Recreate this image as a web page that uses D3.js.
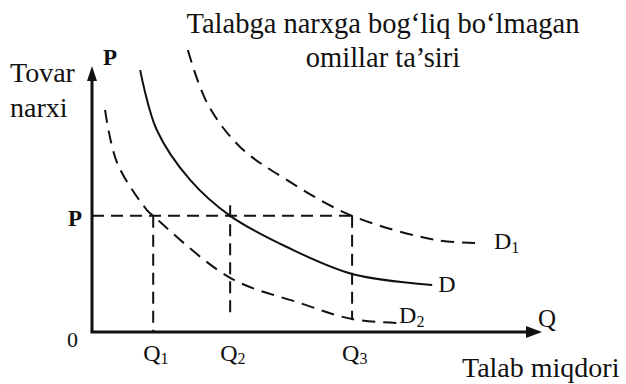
<!DOCTYPE html>
<html>
<head>
<meta charset="utf-8">
<script src="https://cdn.jsdelivr.net/npm/d3@7"></script>
<style>
  html, body { margin: 0; padding: 0; background: #fff; }
  svg text { font-family: "Liberation Serif", "DejaVu Serif", serif; fill: #111; }
</style>
</head>
<body>
<svg id="chart" width="626" height="384"></svg>
<script>
// egri chiziqlar: [miqdor, narx]
const egriD1 = [[2.13, 10.68], [2.56, 8.67], [3.29, 7.01], [4.33, 5.76], [5.78, 4.4], [7.67, 3.48], [8.62, 3.37]];
const egriD = [[1.07, 9.92], [1.44, 7.65], [2.18, 5.76], [3.07, 4.4], [4.33, 3.22], [5.78, 2.2], [7.56, 1.78]];
const egriD2 = [[0.29, 8.41], [0.56, 6.4], [1.22, 4.62], [1.36, 4.4], [3.07, 2.05], [4.62, 1.1], [5.78, 0.49], [6.78, 0.34]];

const narxP = 4.4;
const miqdorlar = [1.36, 3.07, 5.78]; // Q1, Q2, Q3
const miqdorTepa = [4.4, 4.8, 4.4];
const miqdorPast = [0, 0.5, 0.5];
const qBelgilar = ["1", "2", "3"];

const sarlavha = ["Talabga narxga bog\u2018liq bo\u2018lmagan", "omillar ta\u2019siri"];

function chiz(svgElem) {
  const svg = d3.select(svgElem);

  const x = d3.scaleLinear().domain([0, 10]).range([92, 542]);
  const y = d3.scaleLinear().domain([0, 10]).range([332, 68]);

  const line = d3.line()
    .x(d => x(d[0]))
    .y(d => y(d[1]))
    .curve(d3.curveCatmullRom.alpha(0.5));

  // o'qlar
  svg.append("line")
    .attr("x1", x(0)).attr("y1", y(0))
    .attr("x2", x(0)).attr("y2", y(10) + 10)
    .attr("stroke", "#111").attr("stroke-width", 3);
  svg.append("path")
    .attr("d", `M${x(0)},${y(10) - 2} L${x(0) - 5},${y(10) + 13} L${x(0) + 5},${y(10) + 13} Z`)
    .attr("fill", "#111");
  svg.append("line")
    .attr("x1", x(0) - 1.5).attr("y1", y(0))
    .attr("x2", x(10) - 12).attr("y2", y(0))
    .attr("stroke", "#111").attr("stroke-width", 3);
  svg.append("path")
    .attr("d", `M${x(10)},${y(0)} L${x(10) - 16},${y(0) - 6} L${x(10) - 16},${y(0) + 6} Z`)
    .attr("fill", "#111");

  // yordamchi chiziqlar
  svg.append("line")
    .attr("x1", x(0)).attr("y1", y(narxP))
    .attr("x2", x(miqdorlar[2])).attr("y2", y(narxP))
    .attr("stroke", "#111").attr("stroke-width", 2)
    .attr("stroke-dasharray", "12,7");

  svg.selectAll("line.q")
    .data(miqdorlar)
    .enter().append("line")
    .attr("class", "q")
    .attr("x1", d => x(d)).attr("x2", d => x(d))
    .attr("y1", (d, i) => y(miqdorTepa[i]))
    .attr("y2", (d, i) => y(miqdorPast[i]))
    .attr("stroke", "#111").attr("stroke-width", 2)
    .attr("stroke-dasharray", "12,7");

  // talab egri chiziqlari
  const egrilar = [
    { data: egriD1, dash: "13,8", nom: "D", sub: "1", dx: 14, dy: 6 },
    { data: egriD, dash: null, nom: "D", sub: "", dx: 6, dy: 7 },
    { data: egriD2, dash: "13,8", nom: "D", sub: "2", dx: 2, dy: 0 },
  ];

  egrilar.forEach(e => {
    svg.append("path")
      .attr("d", line(e.data))
      .attr("fill", "none")
      .attr("stroke", "#111")
      .attr("stroke-width", 2)
      .attr("stroke-dasharray", e.dash);
    const oxiri = e.data[e.data.length - 1];
    const t = svg.append("text")
      .attr("x", x(oxiri[0]) + e.dx)
      .attr("y", y(oxiri[1]) + e.dy)
      .attr("font-size", 24)
      .text(e.nom);
    if (e.sub) {
      t.append("tspan").attr("font-size", 16).attr("dy", 4).text(e.sub);
    }
  });

  // belgilar
  svg.append("text").attr("x", x(0) + 11).attr("y", 65)
    .attr("font-size", 23).attr("font-weight", "bold").text("P");
  svg.append("text").attr("x", x(0) - 24).attr("y", y(narxP) + 10)
    .attr("font-size", 23).attr("font-weight", "bold").text("P");
  svg.append("text").attr("x", x(0) - 25).attr("y", y(0) + 15)
    .attr("font-size", 22).text("0");

  svg.selectAll("text.ql")
    .data(miqdorlar)
    .enter().append("text")
    .attr("class", "ql")
    .attr("x", d => x(d) - 10)
    .attr("y", 361)
    .attr("font-size", 24)
    .each(function(d, i) {
      d3.select(this).append("tspan").text("Q");
      d3.select(this).append("tspan").attr("font-size", 16).attr("dy", 3).text(qBelgilar[i]);
    });

  svg.append("text").attr("x", x(10) - 4).attr("y", y(0) - 5)
    .attr("font-size", 25).text("Q");

  svg.append("text").attr("x", 10).attr("y", 82)
    .attr("font-size", 28).text("Tovar");
  svg.append("text").attr("x", 10).attr("y", 117)
    .attr("font-size", 28).text("narxi");
  svg.append("text").attr("x", 462).attr("y", 377)
    .attr("font-size", 28).text("Talab miqdori");

  svg.selectAll("text.sarlavha")
    .data(sarlavha)
    .enter().append("text")
    .attr("class", "sarlavha")
    .attr("x", 383)
    .attr("y", (d, i) => 33 + i * 34)
    .attr("text-anchor", "middle")
    .attr("font-size", 28.5)
    .text(d => d);
}

chiz(document.getElementById("chart"));
</script>
</body>
</html>
